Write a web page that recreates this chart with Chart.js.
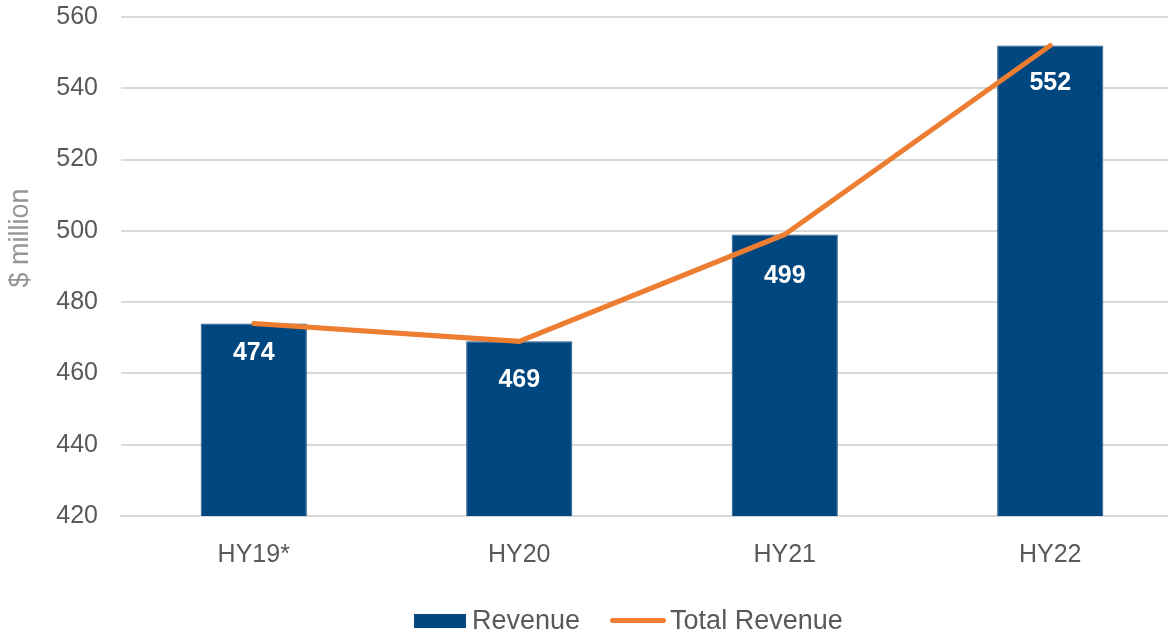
<!DOCTYPE html>
<html lang="en">
<head>
  <meta charset="UTF-8">
  <title>Revenue by Half Year</title>
  <script src="https://cdn.jsdelivr.net/npm/chart.js"></script>
  <style>
    body {
      margin: 0;
      overflow: hidden;
      background: #fff;
      font-family: "Liberation Sans", Arial, sans-serif;
    }
    .chart-box {
      position: relative;
      width: 1184px;
      height: 635px;
    }
    .legend {
      position: absolute;
      left: 414px;
      top: 605px;
      display: flex;
      align-items: center;
      font-size: 27px;
      color: #595959;
    }
    .legend .swatch-bar {
      width: 52px;
      height: 14px;
      background: #00467f;
      margin-right: 6px;
    }
    .legend .swatch-line {
      width: 56px;
      height: 5px;
      border-radius: 3px;
      background: #ed7d31;
      margin-left: 30px;
      margin-right: 4px;
    }
  </style>
</head>
<body>
  <div class="chart-box">
    <canvas id="revenueChart"></canvas>
    <div class="legend">
      <span class="swatch-bar"></span><span>Revenue</span>
      <span class="swatch-line"></span><span>Total Revenue</span>
    </div>
  </div>

  <script>
    const periods = ['HY19*', 'HY20', 'HY21', 'HY22'];
    const revenue = [474, 469, 499, 552];
    const totalRevenue = [474, 469, 499, 552];
    const yTicks = [420, 440, 460, 480, 500, 520, 540, 560];

    const fontFamily = '"Liberation Sans", Arial, sans-serif';
    // how far below the bar top each value label sits (px)
    const labelDrop = [30, 39, 42, 38];

    // white value labels just inside the top of each bar
    const barLabels = {
      id: 'barLabels',
      afterDatasetDraw(chart, args) {
        if (args.index !== 0) return;
        const ctx = chart.ctx;
        ctx.save();
        ctx.fillStyle = '#ffffff';
        ctx.font = 'bold 25px ' + fontFamily;
        ctx.textAlign = 'center';
        ctx.textBaseline = 'middle';
        args.meta.data.forEach((bar, i) => {
          ctx.fillText(revenue[i], bar.x, bar.y + labelDrop[i]);
        });
        ctx.restore();
      }
    };

    // y axis title sits a little above the middle in the original
    const axisTitle = {
      id: 'axisTitle',
      afterDraw(chart) {
        const ctx = chart.ctx;
        ctx.save();
        ctx.translate(21, 238);
        ctx.rotate(-Math.PI / 2);
        ctx.fillStyle = '#959595';
        ctx.font = '27px ' + fontFamily;
        ctx.textAlign = 'center';
        ctx.textBaseline = 'middle';
        ctx.fillText('$ million', 0, 0);
        ctx.restore();
      }
    };

    new Chart(document.getElementById('revenueChart'), {
      type: 'bar',
      data: {
        labels: periods,
        datasets: [
          {
            label: 'Revenue',
            data: revenue,
            backgroundColor: '#00467f',
            borderColor: '#1d5a8c',
            borderWidth: 1,
            barPercentage: 0.4,
            categoryPercentage: 1,
            order: 1
          },
          {
            label: 'Total Revenue',
            type: 'line',
            data: totalRevenue,
            borderColor: '#ed7d31',
            backgroundColor: '#ed7d31',
            borderWidth: 5,
            borderCapStyle: 'round',
            pointRadius: 0,
            tension: 0,
            order: 0
          }
        ]
      },
      options: {
        responsive: true,
        maintainAspectRatio: false,
        animation: false,
        layout: { padding: { top: 17, right: 1, left: 0, bottom: 0 } },
        plugins: {
          legend: { display: false },
          tooltip: { enabled: false }
        },
        scales: {
          x: {
            grid: { display: false, drawTicks: false },
            border: { display: true, color: '#d9d9d9', width: 2 },
            ticks: {
              color: '#595959',
              font: { family: fontFamily, size: 25 },
              padding: 24
            },
            afterFit: s => { s.height = 119; }
          },
          y: {
            min: 420,
            max: 560,
            afterBuildTicks: s => { s.ticks = yTicks.map(v => ({ value: v })); },
            grid: { color: '#d9d9d9', lineWidth: 2, drawTicks: false },
            border: { display: false },
            ticks: {
              color: '#595959',
              font: { family: fontFamily, size: 25 },
              padding: 23
            },
            afterFit: s => {
              s.width = 121;
              s.paddingTop = 0;
              s.paddingBottom = 0;
            }
          }
        }
      },
      plugins: [barLabels, axisTitle]
    });
  </script>
</body>
</html>
